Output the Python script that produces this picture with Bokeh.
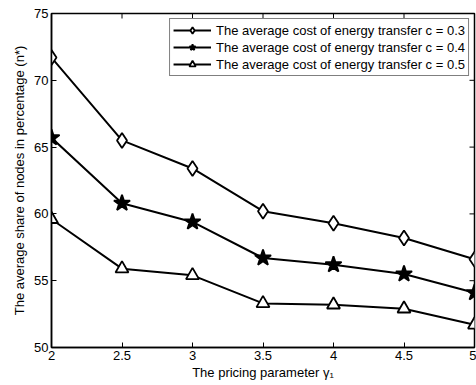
import math
from bokeh.plotting import figure
from bokeh.models import FixedTicker, Legend, LegendItem, Range1d
from bokeh.embed import file_html
from bokeh.resources import INLINE

gamma = [2, 2.5, 3, 3.5, 4, 4.5, 5]
c03 = [71.7, 65.5, 63.4, 60.2, 59.3, 58.2, 56.6]
c04 = [65.7, 60.8, 59.4, 56.7, 56.2, 55.5, 54.1]
c05 = [59.6, 55.9, 55.4, 53.3, 53.2, 52.9, 51.7]
labels = ["The average cost of energy transfer c = 0.3",
          "The average cost of energy transfer c = 0.4",
          "The average cost of energy transfer c = 0.5"]
xticks = [2, 2.5, 3, 3.5, 4, 4.5, 5]
yticks = [50, 55, 60, 65, 70, 75]
xmin, xmax, ymin, ymax = 2, 5, 50, 75

FONT = "Liberation Sans"
FS = "13px"

p = figure(frame_width=423, frame_height=334, output_backend="svg", toolbar_location=None,
           x_range=Range1d(xmin, xmax), y_range=Range1d(ymin, ymax),
           min_border_left=51, min_border_right=2, min_border_top=13, min_border_bottom=38)
p.xgrid.visible = False
p.ygrid.visible = False
p.outline_line_color = "black"
p.outline_line_width = 1.5

for ax in (p.xaxis[0], p.yaxis[0]):
    ax.axis_line_color = "black"
    ax.axis_line_width = 1.5
    ax.major_tick_in = 5
    ax.major_tick_out = 0
    ax.major_tick_line_width = 1
    ax.minor_tick_line_color = None
    ax.major_tick_line_color = "black"
    ax.major_label_text_font = FONT
    ax.major_label_text_font_size = FS
    ax.major_label_text_color = "black"
    ax.axis_label_text_font = FONT
    ax.axis_label_text_font_style = "normal"
    ax.axis_label_text_font_size = FS
    ax.axis_label_text_color = "black"

p.xaxis.ticker = FixedTicker(ticks=xticks)
p.yaxis.ticker = FixedTicker(ticks=yticks)
p.xaxis.major_label_standoff = 3
p.yaxis.major_label_standoff = 3
p.xaxis.axis_label = "The pricing parameter \u03b3\u2081"
p.yaxis.axis_label = "The average share of nodes in percentage (n*)"
p.xaxis.axis_label_standoff = 2
p.yaxis.axis_label_standoff = 4

# inward ticks on the top and right box edges
p.ray(x=xticks, y=[ymax] * len(xticks), length=5, length_units="screen",
      angle=-math.pi / 2, line_color="black", line_width=1, level="overlay")
p.ray(x=[xmax] * len(yticks), y=yticks, length=5, length_units="screen",
      angle=math.pi, line_color="black", line_width=1, level="overlay")

items = []
for ys, lab, mk in [(c03, labels[0], "diamond"), (c04, labels[1], "star"), (c05, labels[2], "triangle")]:
    ln = p.line(gamma, ys, line_color="black", line_width=2)
    fill = "black" if mk == "star" else "white"
    size = 17 if mk == "star" else (15 if mk == "diamond" else 13)
    sc = p.scatter(gamma, ys, marker=mk, size=size, line_color="black", line_width=1.8, fill_color=fill)
    items.append(LegendItem(label=lab, renderers=[ln, sc]))

leg = Legend(items=items, location="top_right")
leg.label_text_font = FONT
leg.label_text_font_size = FS
leg.label_text_color = "black"
leg.border_line_color = "black"
leg.border_line_width = 1
leg.glyph_width = 38
leg.glyph_height = 16
leg.label_height = 16
leg.spacing = 1
leg.padding = 3
leg.margin = 5
leg.label_standoff = 5
leg.background_fill_alpha = 1
p.add_layout(leg, "center")

open("out.html", "w").write(file_html(p, INLINE))
